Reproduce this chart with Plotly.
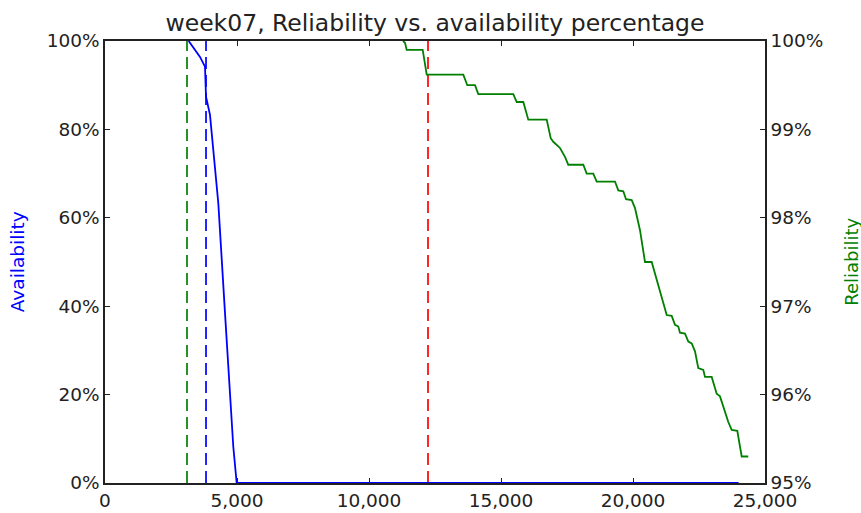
import plotly.graph_objects as go

# Availability (%) as a function of load
avail_x = [3170, 3598, 3788, 3826, 3977, 4292, 4545, 4860, 4988, 24000]
avail_y = [100.0, 96.4, 94.2, 87.4, 83.3, 63.3, 38.5, 8.2, 0.0, 0.0]

# Reliability (%) as a function of load
rel_x = [11288, 11364, 11428, 12034, 12186, 13572, 13723, 14015, 14140, 15466,
         15595, 15845, 16034, 16731, 16883, 16981, 17235, 17424, 17549, 18117,
         18246, 18496, 18625, 19318, 19443, 19633, 19735, 19951, 20076, 20201,
         20265, 20455, 20708, 21277, 21466, 21591, 21716, 21780, 21970, 22095,
         22223, 22348, 22473, 22663, 22727, 22981, 23170, 23295, 23610, 23739,
         23951, 24117, 24367]
rel_y = [100.0, 99.98, 99.90, 99.90, 99.62, 99.62, 99.50, 99.50, 99.40, 99.40,
         99.31, 99.31, 99.11, 99.11, 98.90, 98.86, 98.79, 98.69, 98.60, 98.60,
         98.50, 98.50, 98.41, 98.41, 98.31, 98.30, 98.21, 98.20, 98.11, 97.94,
         97.86, 97.50, 97.50, 96.90, 96.89, 96.79, 96.77, 96.70, 96.69, 96.60,
         96.58, 96.49, 96.30, 96.28, 96.20, 96.20, 96.01, 95.98, 95.69, 95.60,
         95.59, 95.30, 95.30]

# Threshold markers (load values)
thresholds = [3106, 3826, 12235]
threshold_colors = ["#008000", "#0000ff", "#ff0000"]

x_ticks = [0, 5000, 10000, 15000, 20000, 25000]
left_ticks = [0, 20, 40, 60, 80, 100]
left_labels = ["0%", "20%", "40%", "60%", "80%", "100%"]
right_ticks = [95, 96, 97, 98, 99, 100]
right_labels = ["95%", "96%", "97%", "98%", "99%", "100%"]

FONT = "DejaVu Sans"
fig = go.Figure()

for xv, col in zip(thresholds, threshold_colors):
    fig.add_trace(go.Scatter(x=[xv, xv], y=[0, 100], mode="lines",
                             line=dict(color=col, width=1.7, dash="12px,6px"),
                             showlegend=False, hoverinfo="skip"))

fig.add_trace(go.Scatter(x=avail_x, y=avail_y, mode="lines",
                         line=dict(color="#0000ff", width=1.8),
                         showlegend=False))
fig.add_trace(go.Scatter(x=rel_x, y=rel_y, mode="lines", yaxis="y2",
                         line=dict(color="#008000", width=1.8),
                         showlegend=False))

axis_common = dict(showgrid=False, zeroline=False, showline=True,
                   linecolor="#222222", linewidth=1.5, ticks="inside",
                   ticklen=5, tickcolor="#222222", automargin=False,
                   tickfont=dict(family=FONT, size=18.5, color="#222222"))

fig.update_layout(
    width=861, height=513,
    margin=dict(l=105, r=96, t=41, b=30),
    paper_bgcolor="white", plot_bgcolor="white",
    title=dict(text="week07, Reliability vs. availability percentage",
               x=0.5, xanchor="center", xref="paper",
               y=1 - 23 / 513, yanchor="middle", yref="container",
               font=dict(family=FONT, size=23.5, color="#222222")),
    xaxis=dict(range=[0, 25000], tickvals=x_ticks, tickformat=",d",
               mirror="ticks", **axis_common),
    yaxis=dict(range=[0, 100], tickmode="array", tickvals=left_ticks,
               ticktext=left_labels, mirror="ticks", **axis_common),
    yaxis2=dict(range=[95, 100], tickmode="array", tickvals=right_ticks,
                ticktext=right_labels, overlaying="y", side="right",
                **axis_common),
    annotations=[
        dict(text="Availability", xref="paper", yref="paper", x=-0.133, y=0.5,
             xanchor="center", yanchor="middle",
             textangle=-90, showarrow=False,
             font=dict(family=FONT, size=18.5, color="#0000ff")),
        dict(text="Reliability", xref="paper", yref="paper", x=1.130, y=0.5,
             xanchor="center", yanchor="middle",
             textangle=-90, showarrow=False,
             font=dict(family=FONT, size=18, color="#008000")),
    ],
)

fig.write_html("out.html")
